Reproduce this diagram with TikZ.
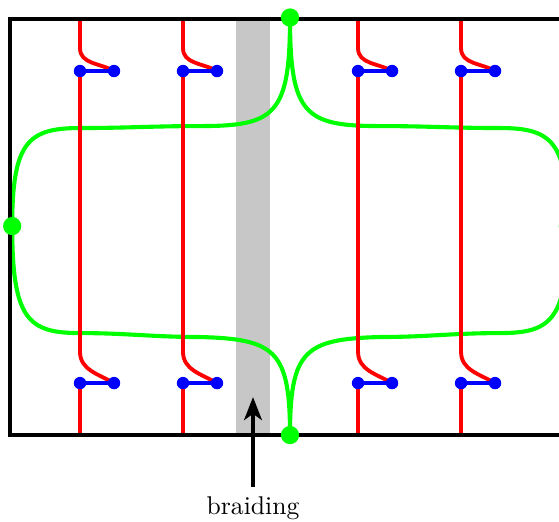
\documentclass[tikz,border=0pt]{standalone}
\usetikzlibrary{arrows.meta}

\begin{document}
\begin{tikzpicture}[
      thick,
      >={Stealth[length=9pt, width=7pt, inset=2.5pt]},
      band/.style={fill=black!22},
      frame/.style={draw=black, line width=1.3pt},
      rwire/.style={red, line width=1.5pt},
      gwire/.style={green, line width=1.6pt},
      bwire/.style={blue, line width=1.3pt},
      bdot/.style={circle, fill=blue, inner sep=0pt, minimum size=0.17cm},
      gdot/.style={circle, fill=green, inner sep=0pt, minimum size=0.25cm}
    ]
      \useasboundingbox (-0.137, -1.178) rectangle (7.521, 5.96);

      % braiding region
      \fill[band] (3.096, 0) rectangle (3.562, 5.70);

      \coordinate (gT) at (3.836, 5.72);
      \coordinate (gB) at (3.836, 0);
      \coordinate (gL) at (0.03, 2.863);
      \coordinate (gR) at (7.642, 2.863);

      \draw[gwire]
        (gT) .. controls (3.836, 4.384) and (3.631, 4.233) .. (2.603, 4.233)
        to[out=180, in=0] (0.959, 4.206)
        .. controls (0.25, 4.206) and (0.03, 4.02) .. (gL);
      \draw[gwire]
        (gT) .. controls (3.836, 4.384) and (4.041, 4.233) .. (5.069, 4.233)
        to[out=0, in=180] (6.713, 4.206)
        .. controls (7.422, 4.206) and (7.642, 4.02) .. (gR);
      \draw[gwire]
        (gB) .. controls (3.836, 1.164) and (3.631, 1.315) .. (2.603, 1.343)
        to[out=180, in=0] (0.959, 1.397)
        .. controls (0.25, 1.397) and (0.03, 1.58) .. (gL);
      \draw[gwire]
        (gB) .. controls (3.836, 1.164) and (4.041, 1.315) .. (5.069, 1.343)
        to[out=0, in=180] (6.713, 1.397)
        .. controls (7.422, 1.397) and (7.642, 1.58) .. (gR);

      \foreach \x [count=\i] in {0.959, 2.370, 4.768, 6.179} {
        \coordinate (tl\i) at (\x, 4.987);
        \coordinate (tr\i) at (\x+0.466, 4.987);
        \coordinate (bl\i) at (\x, 0.712);
        \coordinate (br\i) at (\x+0.466, 0.712);

        \draw[rwire] (\x, 5.70) -- (\x, 5.30) to[out=-90, in=150] (tr\i);
        \draw[rwire] (tl\i) -- (\x, 1.14) to[out=-90, in=150] (br\i);
        \draw[rwire] (bl\i) -- (\x, 0);

        \draw[bwire] (tl\i) -- (tr\i);
        \draw[bwire] (bl\i) -- (br\i);
        \node[bdot] at (tl\i) {};
        \node[bdot] at (tr\i) {};
        \node[bdot] at (bl\i) {};
        \node[bdot] at (br\i) {};
      }

      \draw[frame] (0, 0) rectangle (7.672, 5.70);

      \node[gdot] (dT) at (gT) {};
      \node[gdot] (dB) at (gB) {};
      \node[gdot] (dL) at (gL) {};
      \node[gdot] (dR) at (gR) {};

      \coordinate (tip) at (3.329, 0.52);
      \node (lbl) at (3.329, -1.0) {braiding};
      \draw[->, very thick] (lbl) -- (tip);
    \end{tikzpicture}
\end{document}
